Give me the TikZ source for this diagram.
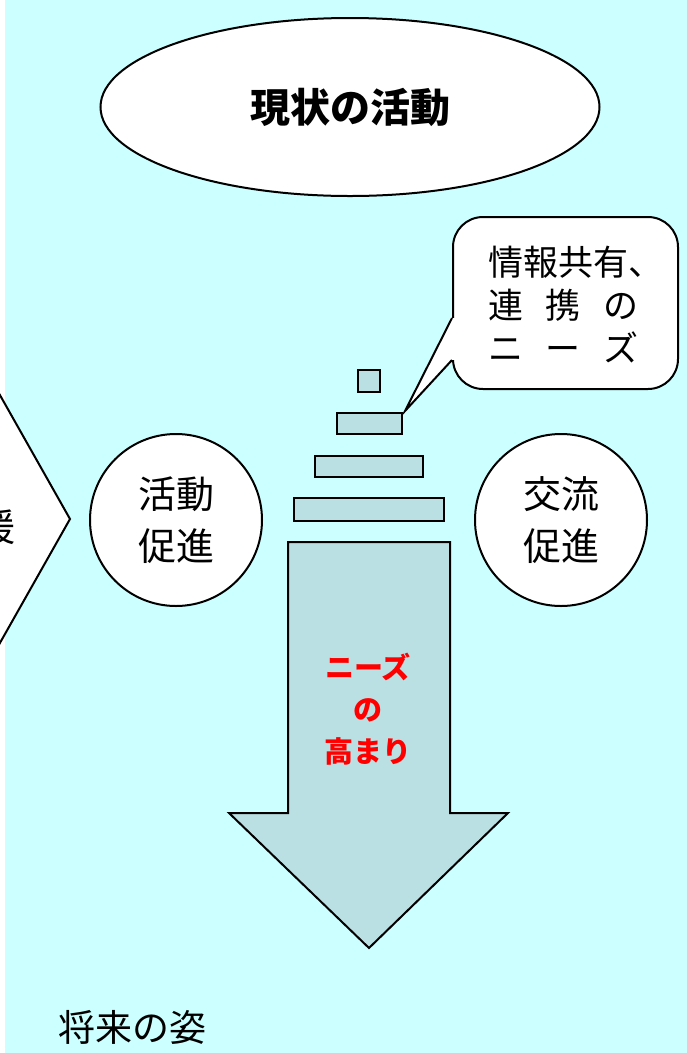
\documentclass[tikz,border=0pt]{standalone}
\usepackage{fontspec}
\setmainfont{Noto Sans CJK JP}
\usetikzlibrary{shapes.geometric}
\definecolor{fondo}{RGB}{204,255,255}
\definecolor{barra}{RGB}{187,224,227}
\tikzset{
  borde/.style={draw=black, line width=2pt, fill=white},
  bloque/.style={draw=black, line width=2.5pt, fill=barra},
  circulo/.style={borde, circle, minimum size=172pt, inner sep=0pt, align=center, font=\fontsize{38}{52}\selectfont},
}
\begin{document}
\begin{tikzpicture}[x=1pt, y=-1pt]
        \clip (0,0) rectangle (687,1053);
        %%%%%%%%%%%%%%%%%%%%%%%% Fondo %%%%%%%%%%%%%%%%%%%%%%%%%%%%%%%%%%%%%%%%%%
        \fill[white] (0,0) rectangle (687,1053);
        \fill[fondo] (5,0) rectangle (687,1053); %Franja blanca a la izquierda
        %%%%%%%%%%%%%%%%%%%%%%%% Flecha izquierda (cortada) %%%%%%%%%%%%%%%%%%%%%%
        \draw[borde] (-60,289) -- (70,519) -- (-60,749) -- cycle;
        \node[anchor=east, inner sep=0pt, font=\fontsize{38}{46}\selectfont] (apoyo) at (16,527) {援};
        %%%%%%%%%%%%%%%%%%%%%%%% Elipse superior %%%%%%%%%%%%%%%%%%%%%%%%%%%%%%%%%
        \node[borde, ellipse, minimum width=499pt, minimum height=178pt, font=\bfseries\fontsize{40}{48}\selectfont] (actual) at (350,107) {現状の活動};
        %%%%%%%%%%%%%%%%%%%%%%%% Circulos %%%%%%%%%%%%%%%%%%%%%%%%%%%%%%%%%%%%%%%
        \node[circulo] (actividad) at (176,520) {活動\\促進};
        \node[circulo] (intercambio) at (561,520) {交流\\促進};
        %%%%%%%%%%%%%%%%%%%%%%%% Barras apiladas %%%%%%%%%%%%%%%%%%%%%%%%%%%%%%%%
        \draw[bloque] (358,370) rectangle (380,392); %Cuadro superior
        \draw[bloque] (337,413) rectangle (402,434);
        \draw[bloque] (315,456) rectangle (423,477);
        \draw[bloque] (294,498) rectangle (444,521);
        %%%%%%%%%%%%%%%%%%%%%%%% Flecha grande %%%%%%%%%%%%%%%%%%%%%%%%%%%%%%%%%%
        \draw[bloque, line width=2pt] (288,542) -- (450,542) -- (450,813) -- (508,813) -- (369,948) -- (229,813) -- (288,813) -- cycle;
        \node[text=red, align=center, font=\bfseries\fontsize{29}{42}\selectfont] (necesidad) at (368,709) {ニーズ\\の\\高まり};
        %%%%%%%%%%%%%%%%%%%%%%%% Globo %%%%%%%%%%%%%%%%%%%%%%%%%%%%%%%%%%%%%%%%%%
        \node[borde, rounded corners=30pt, minimum width=225pt, minimum height=172pt] (burbuja) at (565.5,303) {};
        \coordinate (punta) at (405,411);
        \fill[white] ([yshift=-15pt]burbuja.west) -- (punta) -- ([yshift=-57pt]burbuja.west) -- cycle;
        \fill[white] ([xshift=-2pt,yshift=-15pt]burbuja.west) rectangle ([xshift=3pt,yshift=-57pt]burbuja.west); %Tapa el borde
        \draw[line width=2pt] ([yshift=-15pt]burbuja.west) -- (punta) -- ([yshift=-57pt]burbuja.west);
        \node[align=left, inner sep=0pt, font=\fontsize{35}{43}\selectfont] (texto) at (576,305) {情報共有、\\連\hspace{0.64em}携\hspace{0.64em}の\\ニ\hspace{0.64em}ー\hspace{0.64em}ズ};
        %%%%%%%%%%%%%%%%%%%%%%%% Texto inferior %%%%%%%%%%%%%%%%%%%%%%%%%%%%%%%%%
        \node[anchor=west, inner sep=0pt, font=\fontsize{37}{44}\selectfont] (futuro) at (58,1027) {将来の姿};
      \end{tikzpicture}
\end{document}
